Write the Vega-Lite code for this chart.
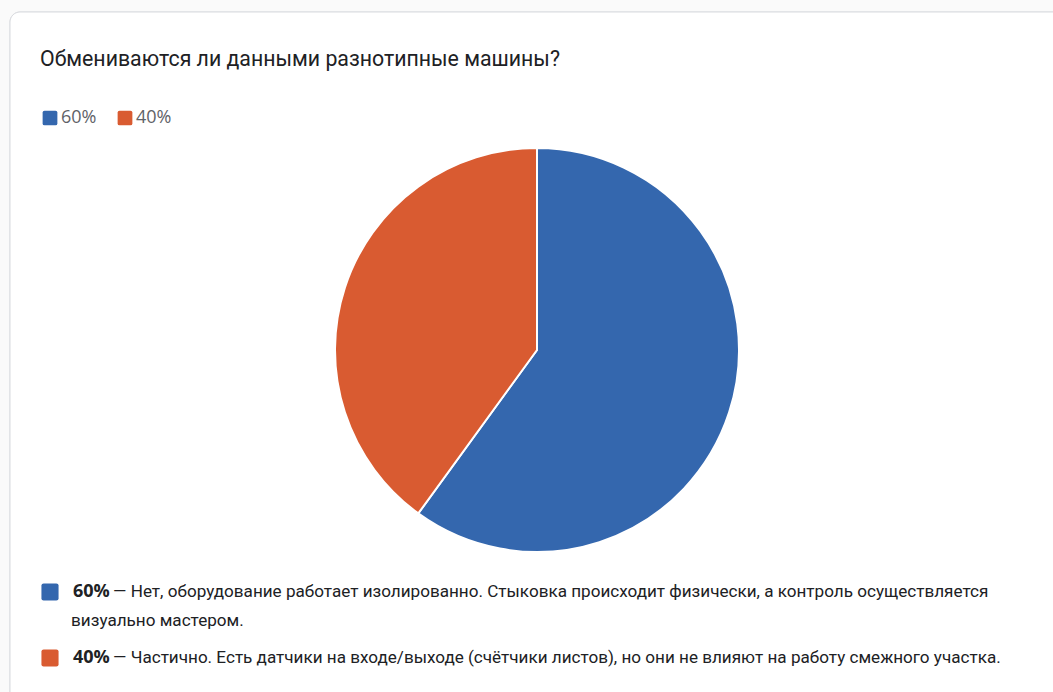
{
  "$schema": "https://vega.github.io/schema/vega-lite/v6.json",
  "autosize": {"type": "none"},
  "padding": {"left": 10, "top": 12, "right": -11, "bottom": -20},
  "width": 1054,
  "height": 700,
  "background": "#fafafa",
  "config": {
    "font": "Roboto",
    "view": {"stroke": null}
  },
  "title": {
    "text": "Обмениваются ли данными разнотипные машины?",
    "anchor": "start",
    "frame": "group",
    "orient": "top",
    "font": "Roboto",
    "fontSize": 21.3,
    "fontWeight": "normal",
    "color": "#202124",
    "dx": 30,
    "dy": 63
  },
  "data": {
    "values": [
      {"label": "60%", "value": 60, "line1": "— Нет, оборудование работает изолированно. Стыковка происходит физически, а контроль осуществляется", "line2": "визуально мастером."},
      {"label": "40%", "value": 40, "line1": "— Частично. Есть датчики на входе/выходе (счётчики листов), но они не влияют на работу смежного участка.", "line2": ""}
    ]
  },
  "layer": [
    {
      "mark": {"type": "rect", "fill": "white", "stroke": "#dadce0", "strokeWidth": 1, "cornerRadius": 10},
      "encoding": {}
    },
    {
      "mark": {"type": "arc", "outerRadius": 202, "stroke": "white", "strokeWidth": 2, "yOffset": -12},
      "encoding": {
        "theta": {"field": "value", "type": "quantitative", "stack": true},
        "order": {"field": "value", "sort": "descending"},
        "color": {
          "field": "label", "type": "nominal", "sort": null,
          "scale": {"range": ["#3467ae", "#d95b31"]},
          "legend": {
            "title": null, "orient": "none", "direction": "horizontal",
            "legendX": 31, "legendY": 97, "padding": 0,
            "symbolType": "M-0.8,-1.07H0.8Q1.07,-1.07 1.07,-0.8V0.8Q1.07,1.07 0.8,1.07H-0.8Q-1.07,1.07 -1.07,0.8V-0.8Q-1.07,-1.07 -0.8,-1.07Z",
            "symbolSize": 190, "symbolStrokeWidth": 0, "symbolOpacity": 1,
            "labelFont": "Open Sans", "labelFontSize": 18, "labelColor": "#5f6368",
            "labelOffset": 2, "columnPadding": 19
          }
        }
      }
    },
    {
      "mark": {"type": "arc", "outerRadius": 202, "opacity": 0, "yOffset": -12},
      "encoding": {
        "theta": {"field": "value", "type": "quantitative", "stack": true},
        "order": {"field": "value", "sort": "descending"},
        "color": {
          "field": "label", "type": "nominal", "sort": null,
          "scale": {"range": ["#3467ae", "#d95b31"]},
          "legend": {
            "title": null, "orient": "none", "direction": "vertical",
            "legendX": 31, "legendY": 571, "padding": 0,
            "symbolType": "M-0.8,-1.07H0.8Q1.07,-1.07 1.07,-0.8V0.8Q1.07,1.07 0.8,1.07H-0.8Q-1.07,1.07 -1.07,0.8V-0.8Q-1.07,-1.07 -0.8,-1.07Z",
            "symbolSize": 256, "symbolStrokeWidth": 0, "symbolOpacity": 1,
            "labelFont": "Open Sans", "labelFontSize": 18, "labelFontWeight": "bold", "labelColor": "#202124",
            "labelOffset": 14, "rowPadding": 48
          }
        }
      }
    },
    {
      "mark": {"type": "arc", "outerRadius": 202, "opacity": 0, "yOffset": -12},
      "encoding": {
        "theta": {"field": "value", "type": "quantitative", "stack": true},
        "order": {"field": "value", "sort": "descending"},
        "color": {
          "field": "line1", "type": "nominal", "sort": null,
          "scale": {"range": ["#3467ae", "#d95b31"]},
          "legend": {
            "title": null, "orient": "none", "direction": "vertical",
            "legendX": 86, "legendY": 571, "padding": 0,
            "symbolSize": 256, "symbolStrokeWidth": 0, "symbolOpacity": 0,
            "labelFont": "Roboto", "labelFontSize": 17.1, "labelColor": "#202124",
            "labelOffset": 0, "labelLimit": 2000, "rowPadding": 48
          }
        }
      }
    },
    {
      "mark": {"type": "arc", "outerRadius": 202, "opacity": 0, "yOffset": -12},
      "encoding": {
        "theta": {"field": "value", "type": "quantitative", "stack": true},
        "order": {"field": "value", "sort": "descending"},
        "color": {
          "field": "line2", "type": "nominal", "sort": null,
          "scale": {"range": ["#3467ae", "#d95b31"]},
          "legend": {
            "title": null, "orient": "none", "direction": "vertical",
            "legendX": 31, "legendY": 600, "padding": 0,
            "symbolSize": 256, "symbolStrokeWidth": 0, "symbolOpacity": 0,
            "labelFont": "Roboto", "labelFontSize": 17.1, "labelColor": "#202124",
            "labelOffset": 13, "labelLimit": 2000, "rowPadding": 48
          }
        }
      }
    }
  ],
  "resolve": {"scale": {"color": "independent"}}
}
